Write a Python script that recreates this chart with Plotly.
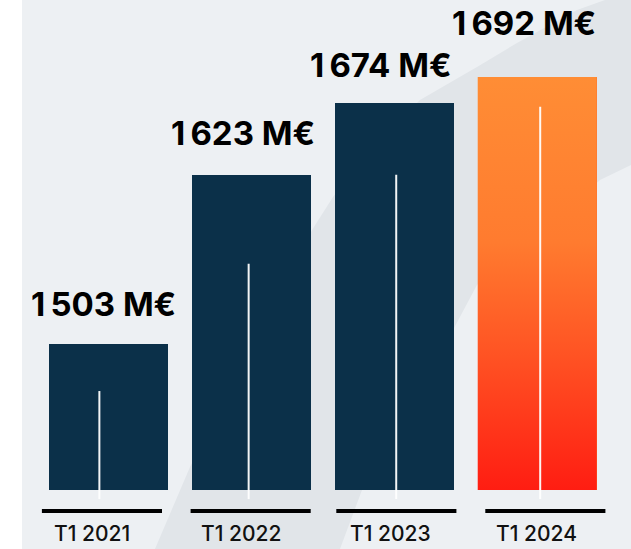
import plotly.graph_objects as go

# ---------------- data ----------------
CATEGORIES = ["T1 2021", "T1 2022", "T1 2023", "T1 2024"]
VALUES = [1503, 1623, 1674, 1692]           # M€
VALUE_LABELS = ["1\u2009503 M€", "1\u2009623 M€", "1\u2009674 M€", "1\u2009692 M€"]
AXIS_BASE = 1400                             # bars start at this value
# decorative thin white line inside each bar (top, in M€ units)
INNER_LINE_TOP = [1470, 1560, 1623, 1671]

# ---------------- layout tweaks (pixels / category units) ----------------
W, H = 631, 549
BAR_WIDTH = 0.832
X_RANGE = [-0.757, 3.656]
Y_RANGE = [1358.3, 1746.5]
LABEL_XSHIFT = [-5, -8, -13, -13]
LABEL_YSHIFT = [18, 20, 16, 32]
TICK_XSHIFT = [-16, -10, -4, -1]
INNER_LINE_DX = [-0.062, -0.018, 0.014, 0.021]
UNDERLINE_DX = [-0.044, -0.004, 0.015, 0.057]
UNDERLINE_Y = 1385.2

NAVY = "#0b3049"
GRAD = [[0.0, "#ff1d12"], [0.34, "#ff5524"], [0.6, "#ff7b2f"], [1.0, "#ff8d35"]]
BG_LIGHT = "#edf0f3"
BG_BAND = "#e1e5e9"

xs = list(range(len(CATEGORIES)))
fig = go.Figure()

# bars (navy), the highlighted one overlaid with a gradient polygon
fig.add_trace(go.Bar(
    x=xs, y=[v - AXIS_BASE for v in VALUES], base=AXIS_BASE,
    width=BAR_WIDTH,
    marker=dict(color=[NAVY, NAVY, NAVY, "#ff6a2a"], line=dict(width=0)),
    customdata=CATEGORIES,
    hovertemplate="%{customdata}: %{y}<extra></extra>",
    showlegend=False,
))

i_last = len(VALUES) - 1
xl, xr = xs[i_last] - BAR_WIDTH / 2, xs[i_last] + BAR_WIDTH / 2
fig.add_trace(go.Scatter(
    x=[xl, xr, xr, xl, xl],
    y=[AXIS_BASE, AXIS_BASE, VALUES[i_last], VALUES[i_last], AXIS_BASE],
    mode="lines", line=dict(width=0), fill="toself",
    fillgradient=dict(type="vertical", colorscale=GRAD,
                      start=AXIS_BASE, stop=VALUES[i_last]),
    hoverinfo="skip", showlegend=False,
))

# background: white strip, light panel, diagonal band
def px(x, y):
    return x / W, 1 - y / H

shapes = [dict(type="rect", xref="paper", yref="paper",
               x0=22 / W, x1=1, y0=0, y1=1,
               fillcolor=BG_LIGHT, line=dict(width=0), layer="below")]
band_pts = [(155, 549), (190, 467), (250, 350), (312, 230), (333, 197),
            (375, 145), (420, 100), (477, 67), (517, 43), (577, 10), (605, 0),
            (631, 0), (631, 165), (600, 180), (540, 232), (477, 285),
            (453, 330), (362, 490), (340, 549)]
path = "M " + " L ".join(f"{px(a, b)[0]:.4f},{px(a, b)[1]:.4f}" for a, b in band_pts) + " Z"
shapes.append(dict(type="path", xref="paper", yref="paper", path=path,
                   fillcolor=BG_BAND, line=dict(width=0), layer="below"))

# thin white lines inside bars and black underlines
for i, x in enumerate(xs):
    shapes.append(dict(type="line", xref="x", yref="y",
                       x0=x + INNER_LINE_DX[i], x1=x + INNER_LINE_DX[i],
                       y0=1393.6, y1=INNER_LINE_TOP[i],
                       line=dict(color="rgba(255,255,255,0.95)", width=2),
                       layer="above"))
    shapes.append(dict(type="line", xref="x", yref="y",
                       x0=x + UNDERLINE_DX[i] - 0.42, x1=x + UNDERLINE_DX[i] + 0.42,
                       y0=UNDERLINE_Y, y1=UNDERLINE_Y,
                       line=dict(color="#000000", width=4), layer="above"))

annotations = []
for i, x in enumerate(xs):
    annotations.append(dict(
        x=x, y=VALUES[i], xref="x", yref="y", text=VALUE_LABELS[i],
        showarrow=False, xanchor="center", yanchor="bottom",
        xshift=LABEL_XSHIFT[i], yshift=LABEL_YSHIFT[i],
        font=dict(family="Inter, Liberation Sans, sans-serif", size=33,
                  color="#000000", weight=700),
    ))
    annotations.append(dict(
        x=x, y=0, xref="x", yref="paper", text=CATEGORIES[i],
        showarrow=False, xanchor="center", yanchor="bottom",
        xshift=TICK_XSHIFT[i], yshift=1,
        font=dict(family="Inter, Liberation Sans, sans-serif", size=21,
                  color="#111111", weight=500),
    ))

fig.update_layout(
    width=W, height=H,
    margin=dict(l=0, r=0, t=0, b=0),
    paper_bgcolor="#ffffff", plot_bgcolor="#ffffff",
    xaxis=dict(range=X_RANGE, visible=False, fixedrange=True),
    yaxis=dict(range=Y_RANGE, visible=False, fixedrange=True),
    shapes=shapes, annotations=annotations,
    bargap=0, showlegend=False,
)

fig.write_html(
    "out.html",
    config={"displayModeBar": False},
    post_script="document.body.style.margin='0';document.body.style.overflow='hidden';",
)
